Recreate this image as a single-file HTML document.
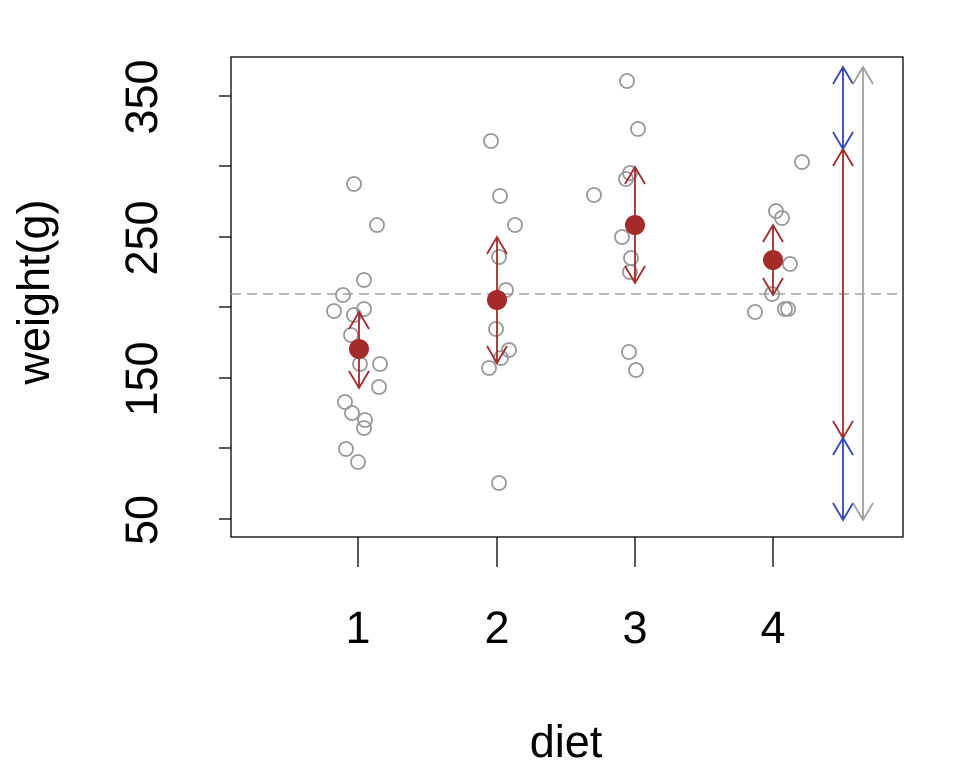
<!DOCTYPE html>
<html><head><style>body{margin:0;background:#fff}svg{display:block}</style></head><body>
<svg width="960" height="768" xmlns="http://www.w3.org/2000/svg" font-family="Liberation Sans, sans-serif">
<rect x="231" y="57" width="672" height="480" fill="none" stroke="#000" stroke-width="1.3"/>
<g stroke="#000" stroke-width="1.3">
<line x1="219" y1="96" x2="231" y2="96"/><line x1="219" y1="166" x2="231" y2="166"/><line x1="219" y1="237" x2="231" y2="237"/><line x1="219" y1="307" x2="231" y2="307"/><line x1="219" y1="378" x2="231" y2="378"/><line x1="219" y1="448" x2="231" y2="448"/><line x1="219" y1="519" x2="231" y2="519"/>
<line x1="358" y1="537" x2="358" y2="567"/><line x1="497" y1="537" x2="497" y2="567"/><line x1="635" y1="537" x2="635" y2="567"/><line x1="773" y1="537" x2="773" y2="567"/>
</g>
<g font-size="45" text-anchor="middle" fill="#000">
<text transform="translate(157,97) rotate(-90)">350</text>
<text transform="translate(157,238) rotate(-90)">250</text>
<text transform="translate(157,379) rotate(-90)">150</text>
<text transform="translate(157,520) rotate(-90)">50</text>
<text x="358" y="643">1</text>
<text x="497" y="643">2</text>
<text x="635" y="643">3</text>
<text x="773" y="643">4</text>
<text x="566" y="757">diet</text>
<text transform="translate(49,292) rotate(-90)">weight(g)</text>
</g>
<line x1="231" y1="294" x2="903" y2="294" stroke="#a0a0a0" stroke-width="1.5" stroke-dasharray="10,6"/>
<g fill="none" stroke="#999" stroke-width="1.8">
<circle cx="354" cy="184" r="7"/><circle cx="377" cy="225" r="7"/><circle cx="364" cy="280" r="7"/><circle cx="343" cy="295" r="7"/><circle cx="334" cy="311" r="7"/><circle cx="364" cy="309" r="7"/><circle cx="354" cy="315" r="7"/><circle cx="351" cy="335" r="7"/><circle cx="360" cy="364" r="7"/><circle cx="380" cy="364" r="7"/><circle cx="379" cy="387" r="7"/><circle cx="345" cy="402" r="7"/><circle cx="352" cy="413" r="7"/><circle cx="365" cy="420" r="7"/><circle cx="364" cy="428" r="7"/><circle cx="346" cy="449" r="7"/><circle cx="358" cy="462" r="7"/>
<circle cx="491" cy="141" r="7"/><circle cx="500" cy="196" r="7"/><circle cx="515" cy="225" r="7"/><circle cx="499" cy="257" r="7"/><circle cx="506" cy="290" r="7"/><circle cx="496" cy="329" r="7"/><circle cx="509" cy="350" r="7"/><circle cx="501" cy="358" r="7"/><circle cx="489" cy="368" r="7"/><circle cx="499" cy="483" r="7"/>
<circle cx="627" cy="81" r="7"/><circle cx="638" cy="129" r="7"/><circle cx="594" cy="195" r="7"/><circle cx="630" cy="173" r="7"/><circle cx="626" cy="179" r="7"/><circle cx="622" cy="237" r="7"/><circle cx="631" cy="258" r="7"/><circle cx="630" cy="272" r="7"/><circle cx="629" cy="352" r="7"/><circle cx="636" cy="370" r="7"/>
<circle cx="802" cy="162" r="7"/><circle cx="776" cy="211" r="7"/><circle cx="782" cy="218" r="7"/><circle cx="790" cy="264" r="7"/><circle cx="772" cy="294" r="7"/><circle cx="755" cy="312" r="7"/><circle cx="785" cy="309" r="7"/><circle cx="788" cy="309" r="7"/>
</g>
<g stroke="#a52a2a" stroke-width="1.8" fill="none">
<path d="M359 312V388M349 329L359 312L369 329M349 371L359 388L369 371"/>
<path d="M497 237V363M487 254L497 237L507 254M487 346L497 363L507 346"/>
<path d="M635 167V283M625 184L635 167L645 184M625 266L635 283L645 266"/>
<path d="M773 225V295M763 242L773 225L783 242M763 278L773 295L783 278"/>
<path d="M843 149V438M833 166L843 149L853 166M833 421L843 438L853 421"/>
</g>
<g fill="#a52a2a"><circle cx="359" cy="349" r="10"/><circle cx="497" cy="300" r="10"/><circle cx="635" cy="225" r="10"/><circle cx="773" cy="260" r="10"/></g>
<g stroke="#3344bb" stroke-width="1.8" fill="none">
<path d="M843 67V149M833 84L843 67L853 84M833 132L843 149L853 132"/>
<path d="M843 438V520M833 455L843 438L853 455M833 503L843 520L853 503"/>
</g>
<path d="M863 67V520M853 84L863 67L873 84M853 503L863 520L873 503" stroke="#a0a0a0" stroke-width="1.8" fill="none"/>
</svg>
</body></html>
